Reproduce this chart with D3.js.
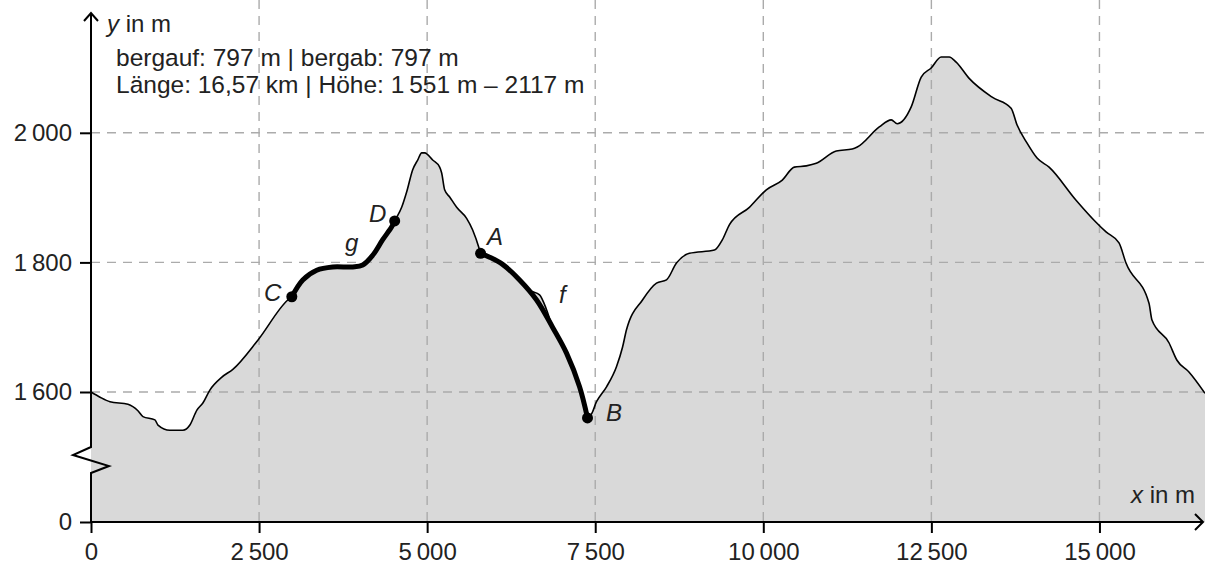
<!DOCTYPE html>
<html>
<head>
<meta charset="utf-8">
<script src="https://cdn.jsdelivr.net/npm/d3@7"></script>
<style>
  html, body { margin: 0; padding: 0; background: #fff; }
  svg { display: block; }
  text { font-family: "Liberation Sans", Arial, Helvetica, sans-serif; fill: #222; }
</style>
</head>
<body>
<svg id="chart" width="1205" height="568"></svg>
<script>
// ---- data ----
const profileX = [0,134,282,550,698,773,951,996,1174,1367,1471,1575,1664,1768,1947,2110,2482,2927,2987,3150,3358,3596,3893,4042,4190,4339,4473,4517,4621,4696,4785,4859,4919,4963,5082,5186,5216,5260,5335,5439,5587,5677,5781,5795,5929,6122,6375,6524,6672,6776,6865,7073,7267,7385,7430,7519,7668,7816,7906,7965,8203,8411,8560,8708,8901,9273,9392,9495,9793,10045,10283,10461,10640,10788,11086,11323,11398,11725,11903,11992,12200,12349,12497,12646,12765,12869,13062,13404,13686,13775,13924,14072,14251,14652,14949,15098,15291,15395,15737,15781,16034,16153,16331,16570];
const profileY = [1600,1592,1585,1581,1571,1562,1557,1549,1541,1541,1549,1572,1583,1603,1623,1635,1680,1742,1747,1773,1788,1793,1793,1796,1811,1835,1855,1864,1885,1909,1943,1958,1969,1969,1958,1947,1938,1912,1901,1885,1868,1850,1819,1814,1808,1799,1773,1757,1750,1727,1700,1660,1608,1568,1565,1585,1608,1639,1669,1696,1742,1768,1773,1799,1814,1819,1835,1858,1885,1912,1927,1947,1949,1953,1972,1975,1978,2009,2020,2014,2040,2086,2100,2117,2117,2109,2084,2055,2038,2012,1984,1961,1947,1896,1862,1847,1830,1799,1737,1711,1676,1649,1631,1598];

const fX = [5795,5929,6122,6375,6628,6865,7073,7267,7385];
const fY = [1814,1808,1797,1773,1742,1700,1660,1608,1560];
const gX = [2987,3150,3358,3596,3893,4042,4190,4339,4473,4517];
const gY = [1747,1773,1788,1793,1793,1796,1811,1835,1855,1864];

const pointNames = ["A","B","C","D"];
const pointX = [5795,7385,2987,4517];
const pointY = [1814,1560,1747,1864];

const xTicks = [0,2500,5000,7500,10000,12500,15000];
const yTicks = [0,1600,1800,2000];
const infoLines = ["bergauf: 797 m | bergab: 797 m", "Länge: 16,57 km | Höhe: 1\u2009551 m – 2117 m"];

// ---- scales ----
const svg = d3.select("#chart");
const x = d3.scaleLinear().domain([0,16570]).range([91,1205]);
const y = d3.scaleLinear().domain([0,1500,2200]).range([522,456.8,3.2]);
const loc = d3.formatLocale({decimal:",", thousands:"\u2009", grouping:[3], currency:["","€"]});
const fmt = loc.format(",d");

const profile = profileX.map((d,i)=>[d,profileY[i]]);
const fData = fX.map((d,i)=>[d,fY[i]]);
const gData = gX.map((d,i)=>[d,gY[i]]);

// area fill
svg.append("path")
  .datum(profile)
  .attr("fill","#d9d9d9")
  .attr("d", d3.area().x(d=>x(d[0])).y0(y(0)).y1(d=>y(d[1])).curve(d3.curveMonotoneX));

// grid
const grid = svg.append("g").attr("stroke","#ababab").attr("stroke-width",1.4).attr("stroke-dasharray","9,7");
grid.selectAll("line.v").data(xTicks.filter(d=>d>0)).join("line")
  .attr("x1",d=>x(d)).attr("x2",d=>x(d)).attr("y1",0).attr("y2",y(0));
grid.selectAll("line.h").data(yTicks.filter(d=>d>0)).join("line")
  .attr("x1",x(0)).attr("x2",1205).attr("y1",d=>y(d)).attr("y2",d=>y(d));

// profile line
svg.append("path")
  .datum(profile)
  .attr("fill","none").attr("stroke","#000").attr("stroke-width",1.6).attr("stroke-linejoin","round")
  .attr("d", d3.line().x(d=>x(d[0])).y(d=>y(d[1])).curve(d3.curveMonotoneX));

// f and g
const thick = d3.line().x(d=>x(d[0])).y(d=>y(d[1])).curve(d3.curveCatmullRom.alpha(0.5));
[fData,gData].forEach(dat=>{
  svg.append("path").datum(dat)
    .attr("fill","none").attr("stroke","#000").attr("stroke-width",5).attr("stroke-linecap","round").attr("stroke-linejoin","round")
    .attr("d", thick);
});

// points
svg.selectAll("circle.pt").data(pointNames).join("circle")
  .attr("cx",(d,i)=>x(pointX[i])).attr("cy",(d,i)=>y(pointY[i])).attr("r",5.5).attr("fill","#000");

// axes
const fs = 24;
const xAxis = svg.append("g").attr("transform",`translate(0,${y(0)})`)
  .call(d3.axisBottom(x).tickValues(xTicks).tickFormat(fmt).tickSize(11).tickPadding(10));
xAxis.select(".domain").remove();
const yAxis = svg.append("g").attr("transform",`translate(${x(0)},0)`)
  .call(d3.axisLeft(y).tickValues(yTicks).tickFormat(fmt).tickSize(11).tickPadding(8));
yAxis.select(".domain").remove();
[xAxis,yAxis].forEach(a=>{
  a.selectAll(".tick line").attr("stroke","#000").attr("stroke-width",2);
  a.selectAll(".tick text").attr("font-size",fs).attr("font-family","Liberation Sans, Arial, sans-serif").attr("fill","#222");
});

// axis lines with break and arrows
const ax = svg.append("g").attr("fill","none").attr("stroke","#000").attr("stroke-width",2).attr("stroke-linejoin","miter");
const x0 = x(0), yb = y(0);
ax.append("path").attr("d", `M${x0},${yb} L1203,${yb}`);
ax.append("path").attr("d", `M1195,${yb-8} L1203,${yb} L1195,${yb+8}`);
ax.append("path").attr("d", `M${x0},${yb} L${x0},473 L${x0+18},466 L${x0-18},455 L${x0},447 L${x0},13`);
ax.append("path").attr("d", `M${x0-7},21 L${x0},13 L${x0+7},21`);

// axis titles
const yt = svg.append("text").attr("x",107).attr("y",32).attr("font-size",fs);
yt.append("tspan").attr("font-style","italic").text("y");
yt.append("tspan").text(" in m");
const xt = svg.append("text").attr("x",1195).attr("y",503).attr("font-size",fs).attr("text-anchor","end");
xt.append("tspan").attr("font-style","italic").text("x");
xt.append("tspan").text(" in m");

// info text
svg.selectAll("text.info").data(infoLines).join("text")
  .attr("class","info").attr("x",116).attr("y",(d,i)=>66+i*27).attr("font-size",24.5).text(d=>d);

// point & curve labels
const lblNames = ["A","B","C","D","f","g"];
const lblX = [487,606,264,369,559,345];
const lblY = [245,421,301,222,303,251];
svg.selectAll("text.lbl").data(lblNames).join("text")
  .attr("class","lbl").attr("x",(d,i)=>lblX[i]).attr("y",(d,i)=>lblY[i])
  .attr("font-size",fs).attr("font-style","italic").text(d=>d);
</script>
</body>
</html>
